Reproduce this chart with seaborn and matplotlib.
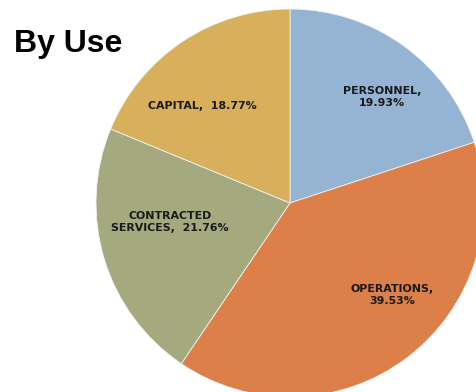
import matplotlib
matplotlib.use("Agg")
import matplotlib.pyplot as plt
import seaborn as sns

# Budget share by use
categories = ["PERSONNEL", "OPERATIONS", "CONTRACTED\nSERVICES", "CAPITAL"]
shares = [19.93, 39.53, 21.76, 18.77]
colors = ["#95B3D3", "#DD7F48", "#A5AA7E", "#D8B05C"]

# label text layout (pixel positions on the canvas, top-left origin)
label_pos = [(382, 97), (392, 295), (170, 222), (202, 106)]
label_fmt = ["{name},\n{val:.2f}%", "{name},\n{val:.2f}%", "{name},  {val:.2f}%", "{name},  {val:.2f}%"]

W, H = 476, 392
sns.set_theme(style="white")
plt.rcParams["font.family"] = ["DejaVu Sans"]

fig = plt.figure(figsize=(W / 100, H / 100), dpi=100)
ax = fig.add_axes([0, 0, 1, 1])

cx, cy, r = 290, H - 203, 194
ax.pie(shares, colors=colors, startangle=90, counterclock=False,
       center=(cx, cy), radius=r, frame=True,
       wedgeprops=dict(edgecolor="#f2f2f2", linewidth=0.6))
ax.set_xlim(0, W)
ax.set_ylim(0, H)
ax.set_aspect("auto")
ax.axis("off")

for name, val, fmt, (px, py) in zip(categories, shares, label_fmt, label_pos):
    ax.text(px, H - py, fmt.format(name=name, val=val), ha="center", va="center",
            fontsize=7.9, fontweight="bold", color="#1a1a1a", linespacing=1.3)

fig.text(14 / W, 1 - 44 / H, "By Use", ha="left", va="center",
         fontsize=23, fontweight="bold", family="Liberation Sans", color="#000000")

fig.savefig("out.png", dpi=100)
